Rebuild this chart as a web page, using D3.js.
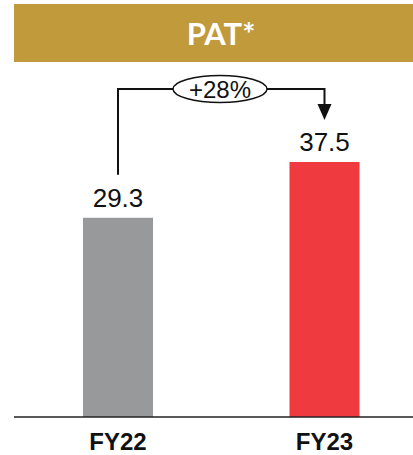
<!DOCTYPE html>
<html>
<head>
<meta charset="utf-8">
<script src="https://cdn.jsdelivr.net/npm/d3@7/dist/d3.min.js"></script>
<style>
  html, body { margin: 0; padding: 0; background: #fff; }
  svg { display: block; }
</style>
</head>
<body>
<svg id="chart" width="413" height="455"></svg>
<script>
// PAT (profit after tax) by fiscal year
const categories = ["FY22", "FY23"];
const values = [29.3, 37.5];
const barColors = ["#98999b", "#ef3a3f"];
const title = "PAT*";
const growthLabel = "+28%";

const svg = d3.select("#chart");
const left = 14, right = 413, baseY = 417;
const font = "'Liberation Sans', Arial, sans-serif";

// Header band
svg.append("rect").attr("x", left).attr("y", 4).attr("width", right - left).attr("height", 58)
  .attr("fill", "#c19a3c");
svg.append("text").attr("x", 221).attr("y", 45).attr("text-anchor", "middle")
  .attr("fill", "#fff").attr("font-family", "Lato, 'Open Sans', sans-serif")
  .attr("font-weight", "bold").attr("font-size", 31).text(title);

const x = d3.scaleBand().domain(categories).range([83, 359.5]).paddingInner(0.661).paddingOuter(0);
const y = d3.scaleLinear().domain([0, 40]).range([baseY, baseY - 40 * 6.8]);

// Bars
svg.selectAll("rect.bar").data(values).join("rect").attr("class", "bar")
  .attr("x", (d, i) => x(categories[i]))
  .attr("y", d => y(d))
  .attr("width", x.bandwidth())
  .attr("height", d => y(0) - y(d))
  .attr("fill", (d, i) => barColors[i]);

// Value labels
svg.selectAll("text.val").data(values).join("text").attr("class", "val")
  .attr("x", (d, i) => x(categories[i]) + x.bandwidth() / 2)
  .attr("y", d => y(d) - 11)
  .attr("text-anchor", "middle").attr("font-family", font)
  .attr("font-size", 26).attr("fill", "#111").text(d => d.toFixed(1));

// Category axis
const axis = d3.axisBottom(x).tickSize(0).tickPadding(0);
const gAxis = svg.append("g").attr("transform", `translate(0,${baseY})`).call(axis);
gAxis.select(".domain").remove();
gAxis.selectAll("text").attr("font-family", font)
  .attr("font-weight", "bold").attr("font-size", 24).attr("fill", "#111")
  .attr("y", 33).attr("dy", null);
svg.append("line").attr("x1", left).attr("x2", right).attr("y1", baseY).attr("y2", baseY)
  .attr("stroke", "#222").attr("stroke-width", 1.5);

// Growth connector
const cx0 = x(categories[0]) + x.bandwidth() / 2;
const cx1 = x(categories[1]) + x.bandwidth() / 2;
const topY = 89;
const startY = y(values[0]) - 43;
const tipY = y(values[1]) - 42;
svg.append("path")
  .attr("d", `M${cx0},${startY}V${topY}H${cx1}V${tipY - 14}`)
  .attr("fill", "none").attr("stroke", "#111").attr("stroke-width", 2);
svg.append("path")
  .attr("d", `M${cx1 - 7},${tipY - 16}L${cx1 + 7},${tipY - 16}L${cx1},${tipY}Z`)
  .attr("fill", "#111");
const ex = 220;
svg.append("ellipse").attr("cx", ex).attr("cy", topY).attr("rx", 47).attr("ry", 13.5)
  .attr("fill", "#fff").attr("stroke", "#111").attr("stroke-width", 1.5);
svg.append("text").attr("x", ex).attr("y", topY + 8.5).attr("text-anchor", "middle")
  .attr("font-family", font).attr("font-size", 24)
  .attr("fill", "#111").text(growthLabel);
</script>
</body>
</html>
